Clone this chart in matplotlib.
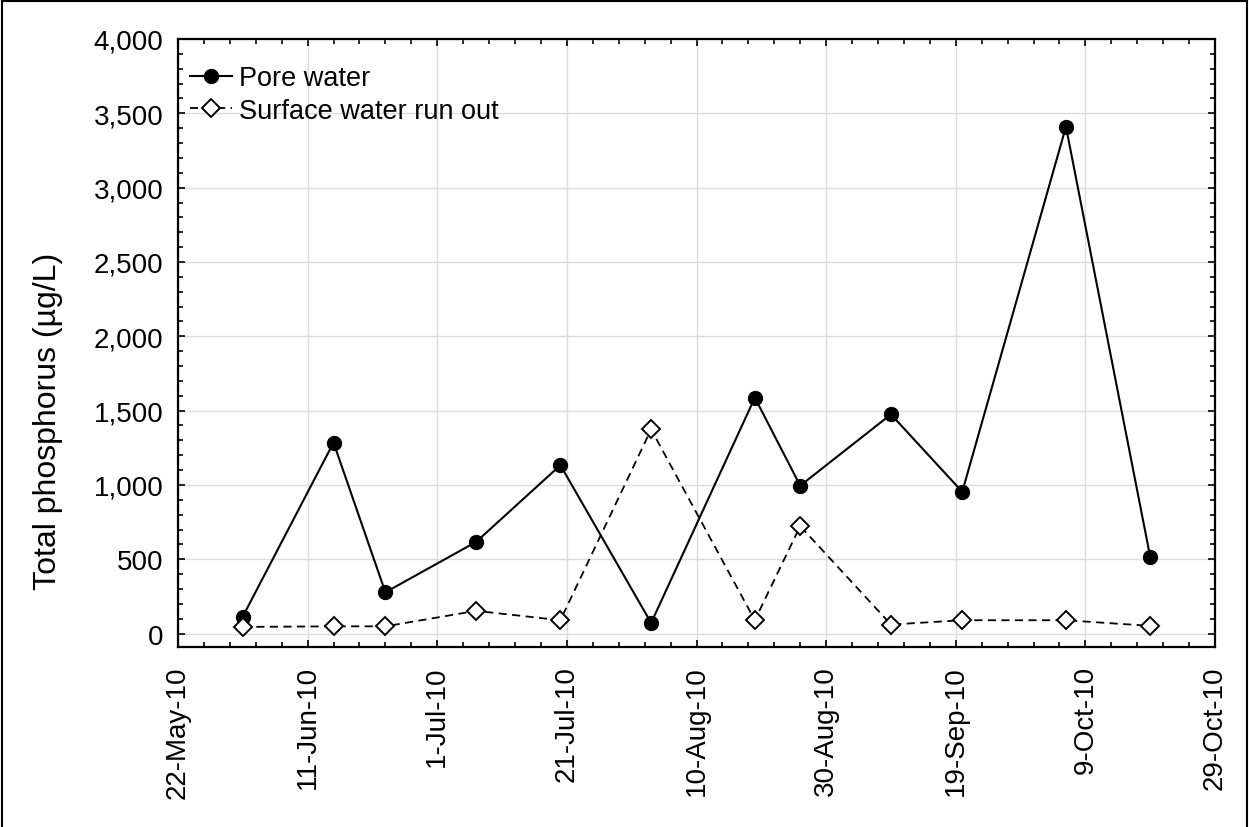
import numpy as np
import pandas as pd
import matplotlib
matplotlib.use("Agg")
import matplotlib.pyplot as plt
import matplotlib.dates as mdates
from matplotlib.ticker import FuncFormatter, MultipleLocator
from matplotlib.lines import Line2D

plt.rcParams['font.family'] = ['Liberation Sans', 'DejaVu Sans']

# Sampling dates and total phosphorus (ug/L)
dates = pd.to_datetime([
    '2010-06-01', '2010-06-15', '2010-06-23', '2010-07-07', '2010-07-20', '2010-08-03',
    '2010-08-19', '2010-08-26', '2010-09-09', '2010-09-20', '2010-10-06', '2010-10-19',
])
pore_water = [115, 1285, 278, 617, 1133, 72, 1587, 995, 1475, 954, 3410, 516]
surface_runout = [45, 49, 49, 153, 90, 1374, 90, 723, 61, 90, 90, 52]

x_start = pd.Timestamp('2010-05-22')
x_end = pd.Timestamp('2010-10-29')
major_dates = pd.date_range(x_start, x_end, freq='20D')
minor_dates = pd.date_range(x_start, x_end, freq='4D')

fig = plt.figure(figsize=(12.49, 8.28), dpi=100)
ax = fig.add_axes([0.1425, 0.2174, 0.8303, 0.7343])

ax.plot(dates, pore_water, color='black', lw=1.5, marker='o', markersize=10,
        markerfacecolor='black', markeredgecolor='black', label='Pore water', zorder=3)
ax.plot(dates, surface_runout, color='black', lw=1.3, dashes=(4.5, 3), marker='D',
        markersize=9, markerfacecolor='white', markeredgecolor='black',
        markeredgewidth=1.4, label='Surface water run out', zorder=3)

ax.set_xlim(x_start, x_end)
ax.set_ylim(-90, 4000)

ax.set_xticks(major_dates)
ax.set_xticks(minor_dates, minor=True)
ax.xaxis.set_major_formatter(FuncFormatter(
    lambda v, pos: (lambda d: f"{d.day}-{d.strftime('%b-%y')}")(mdates.num2date(v))))
ax.yaxis.set_major_locator(MultipleLocator(500))
ax.yaxis.set_minor_locator(MultipleLocator(100))
ax.yaxis.set_major_formatter(FuncFormatter(lambda v, pos: f"{v:,.0f}"))

ax.tick_params(axis='both', which='both', direction='in', top=True, right=True,
               color='black', labelsize=20)
ax.tick_params(which='major', length=5, width=1.2)
ax.tick_params(which='minor', length=3.5, width=1.2)
ax.tick_params(axis='x', which='major', rotation=90, pad=13)
ax.tick_params(axis='y', which='major', pad=10.5)

ax.grid(True, which='major', color='#dcdcdc', lw=1)
ax.set_axisbelow(True)
for side in ax.spines.values():
    side.set_linewidth(1.6)

ax.set_ylabel('Total phosphorus (µg/L)', fontsize=23)
ax.yaxis.set_label_coords(-0.111, 0.373)

ax.legend(loc='upper left', bbox_to_anchor=(0.0116, 0.957), frameon=False, fontsize=19.5,
          handlelength=1.55, handletextpad=0.26, labelspacing=0.25, borderaxespad=0,
          borderpad=0)

# frame along the top and sides of the figure
for xs, ys in [((0.0016, 0.0016), (0.0, 0.998)), ((0.0016, 0.9984), (0.998, 0.998)),
               ((0.9984, 0.9984), (0.0, 0.998))]:
    fig.add_artist(Line2D(xs, ys, transform=fig.transFigure, color='black', lw=1.5))

fig.savefig('out.png', dpi=100)
